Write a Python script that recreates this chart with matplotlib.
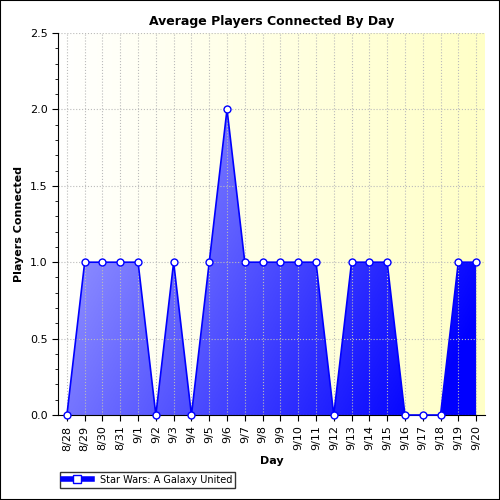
import numpy as np
import matplotlib
matplotlib.use("Agg")
import matplotlib.pyplot as plt
from matplotlib.lines import Line2D

days = ["8/28", "8/29", "8/30", "8/31", "9/1", "9/2", "9/3", "9/4", "9/5", "9/6",
        "9/7", "9/8", "9/9", "9/10", "9/11", "9/12", "9/13", "9/14", "9/15", "9/16",
        "9/17", "9/18", "9/19", "9/20"]
players = [0, 1, 1, 1, 1, 0, 1, 0, 1, 2, 1, 1, 1, 1, 1, 0, 1, 1, 1, 0, 0, 0, 1, 1]

fig = plt.figure(figsize=(5, 5), dpi=100)
ax = fig.add_axes([0.116, 0.17, 0.854, 0.764])
x = np.arange(len(days))
xmin, xmax, ymin, ymax = -0.5, len(days) - 1 + 0.5, 0, 2.5
ax.set_xlim(xmin, xmax)
ax.set_ylim(ymin, ymax)

# background gradient white -> light yellow
bg = np.linspace(0, 1, 256)[None, :] * np.ones((256, 1))
bgc = np.zeros((256, 256, 3))
bgc[..., 0] = 1
bgc[..., 1] = 1
bgc[..., 2] = 1 - 0.22 * bg
ax.imshow(bgc, extent=[xmin, xmax, ymin, ymax], aspect="auto", zorder=0)

# fill gradient: light lavender (top-left) -> blue (bottom-right)
gx, gy = np.meshgrid(np.linspace(0, 1, 256), np.linspace(1, 0, 256))
t = np.clip(0.75 * gx + 0.35 * (1 - gy), 0, 1)
fc = np.zeros((256, 256, 3))
fc[..., 0] = 0.72 * (1 - t)
fc[..., 1] = 0.72 * (1 - t)
fc[..., 2] = 1.0
poly = ax.fill_between(x, players, 0, color="none")
img = ax.imshow(fc, extent=[xmin, xmax, ymin, ymax], aspect="auto", zorder=1)
img.set_clip_path(poly.get_paths()[0], transform=ax.transData)

ax.plot(x, players, color="#0000ff", lw=1.2, marker="o", ms=5,
        mfc="white", mec="#0000ff", mew=1, zorder=3, clip_on=False)

ax.grid(True, color="#bbbbbb", linestyle=":", lw=0.8)
ax.set_yticks(np.arange(0, 2.51, 0.5))
ax.set_yticks(np.arange(0, 2.51, 0.1), minor=True)
ax.set_yticklabels([f"{v:.1f}" for v in np.arange(0, 2.51, 0.5)])
ax.set_xticks(x)
ax.set_xticklabels(days, rotation=90)
ax.tick_params(labelsize=8, length=4)
ax.tick_params(which="minor", length=2, axis="y")
for s in ["top", "right"]:
    ax.spines[s].set_visible(False)

ax.set_title("Average Players Connected By Day", fontsize=9, fontweight="bold")
ax.set_xlabel("Day", fontsize=8, fontweight="bold")
ax.set_ylabel("Players Connected", fontsize=8, fontweight="bold")

h = Line2D([], [], color="#0000ff", lw=4, marker="s", ms=6, mfc="white", mec="#0000ff")
fig.legend([h], ["Star Wars: A Galaxy United"], loc="lower left",
           bbox_to_anchor=(0.11, 0.015), fontsize=7, frameon=True, fancybox=False,
           edgecolor="black", handlelength=3, borderpad=0.3)

fig.patches.append(plt.Rectangle((0, 0), 1, 1, transform=fig.transFigure,
                                 fill=False, edgecolor="black", lw=1.5))
fig.savefig("out.png", dpi=100)
